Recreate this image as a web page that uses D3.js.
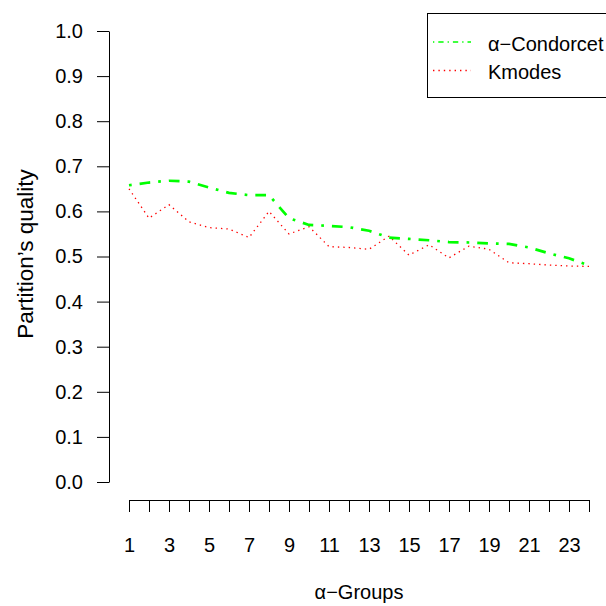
<!DOCTYPE html>
<html>
<head>
<meta charset="utf-8">
<script src="https://cdnjs.cloudflare.com/ajax/libs/d3/7.8.5/d3.min.js"></script>
<style>
  html, body { margin: 0; padding: 0; background: #ffffff; }
  svg { display: block; font-family: "Liberation Sans", Arial, sans-serif; }
</style>
</head>
<body>
<div id="chart"></div>
<script>
// ---- data ----
const groups = d3.range(1, 25); // α-groups 1..24
const condorcet = [0.658, 0.664, 0.668, 0.666, 0.653, 0.641, 0.636, 0.636, 0.585, 0.570,
                   0.568, 0.565, 0.557, 0.542, 0.539, 0.536, 0.532, 0.531, 0.529, 0.528,
                   0.520, 0.507, 0.496, 0.480];
const kmodes = [0.650, 0.585, 0.615, 0.577, 0.564, 0.561, 0.542, 0.600, 0.550, 0.566,
                0.522, 0.520, 0.516, 0.545, 0.503, 0.526, 0.497, 0.523, 0.516, 0.486,
                0.484, 0.481, 0.479, 0.478];
const yTicks = [0, 0.1, 0.2, 0.3, 0.4, 0.5, 0.6, 0.7, 0.8, 0.9, 1.0];
const xTickLabels = ["1", "3", "5", "7", "9", "11", "13", "15", "17", "19", "21", "23"];
const seriesNames = ["α−Condorcet", "Kmodes"];

// ---- layout ----
const W = 606, H = 606, FS = "20px";
const svg = d3.select("#chart").append("svg").attr("width", W).attr("height", H);

const x = d3.scaleLinear().domain([1, 24]).range([129, 589]);
const y = d3.scaleLinear().domain([0, 1]).range([482, 31]);

// y axis
const yAxis = d3.axisLeft(y).tickValues(yTicks).tickFormat(d3.format(".1f"))
  .tickSize(12).tickSizeOuter(0).tickPadding(14);
const gy = svg.append("g").attr("transform", "translate(109,0)").call(yAxis);
gy.selectAll("text").style("font-size", FS).attr("fill", "#000");
gy.selectAll("line, path").attr("stroke", "#000");

// x axis
const xAxis = d3.axisBottom(x).tickValues(groups)
  .tickFormat(d => xTickLabels.includes(String(d)) ? String(d) : "")
  .tickSize(12).tickSizeOuter(0).tickPadding(26);
const gx = svg.append("g").attr("transform", "translate(0,500)").call(xAxis);
gx.selectAll("text").style("font-size", FS).attr("fill", "#000");
gx.selectAll("line, path").attr("stroke", "#000");

// axis titles
svg.append("text").attr("x", 359).attr("y", 599).attr("text-anchor", "middle")
  .style("font-size", FS).text("α−Groups");
svg.append("text").attr("transform", "translate(33,254) rotate(-90)")
  .attr("text-anchor", "middle").style("font-size", "22.5px").text("Partition’s quality");

// lines
const line = d3.line().x((d, i) => x(groups[i])).y(d => y(d));

svg.append("path").datum(kmodes).attr("d", line)
  .attr("fill", "none").attr("stroke", "#ff0000").attr("stroke-width", 1.3)
  .attr("stroke-dasharray", "1.4,4");
svg.append("path").datum(condorcet).attr("d", line)
  .attr("fill", "none").attr("stroke", "#00ff00").attr("stroke-width", 2.7)
  .attr("stroke-dasharray", "2.7,8,10.7,8");

// legend
const lg = svg.append("g");
lg.append("rect").attr("x", 427.5).attr("y", 13.5).attr("width", 180).attr("height", 84)
  .attr("fill", "#fff").attr("stroke", "#000").attr("stroke-width", 1);
const legendStyles = [
  { color: "#00ff00", width: 1.3, dash: "1.3,4,5.3,4" },
  { color: "#ff0000", width: 1.3, dash: "1.4,4" }
];
seriesNames.forEach((name, i) => {
  const ly = 42 + i * 28.5;
  lg.append("line").attr("x1", 433).attr("x2", 471).attr("y1", ly).attr("y2", ly)
    .attr("stroke", legendStyles[i].color).attr("stroke-width", legendStyles[i].width)
    .attr("stroke-dasharray", legendStyles[i].dash);
  lg.append("text").attr("x", 488).attr("y", ly + 1.5).attr("dy", "0.36em")
    .style("font-size", FS).text(name);
});
</script>
</body>
</html>
